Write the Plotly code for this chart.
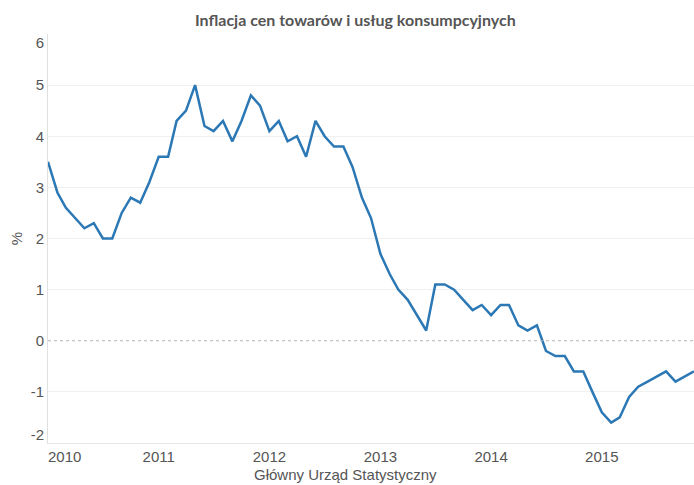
import pandas as pd
import plotly.graph_objects as go

# CPI inflation (y/y, %), monthly, GUS
months = pd.date_range("2010-01-01", "2015-11-01", freq="MS")
inflation = [
    3.5, 2.9, 2.6, 2.4, 2.2, 2.3, 2.0, 2.0, 2.5, 2.8, 2.7, 3.1,  # 2010
    3.6, 3.6, 4.3, 4.5, 5.0, 4.2, 4.1, 4.3, 3.9, 4.3, 4.8, 4.6,  # 2011
    4.1, 4.3, 3.9, 4.0, 3.6, 4.3, 4.0, 3.8, 3.8, 3.4, 2.8, 2.4,  # 2012
    1.7, 1.3, 1.0, 0.8, 0.5, 0.2, 1.1, 1.1, 1.0, 0.8, 0.6, 0.7,  # 2013
    0.5, 0.7, 0.7, 0.3, 0.2, 0.3, -0.2, -0.3, -0.3, -0.6, -0.6, -1.0,  # 2014
    -1.4, -1.6, -1.5, -1.1, -0.9, -0.8, -0.7, -0.6, -0.8, -0.7, -0.6,  # 2015
]
year_labels = ["2010", "2011", "2012", "2013", "2014", "2015"]
# first label nudged right so it sits inside the plot, like the original
year_ticks = ["2010-02-25", "2011-01-01", "2012-01-01", "2013-01-01", "2014-01-01", "2015-01-01"]
y_labels = ["-2", "-1", "0", "1", "2", "3", "4", "5", "6"]
y_label_pos = [-1.83, -1, 0, 1, 2, 3, 4, 5, 5.83]
y_grid = [-2, -1, 1, 2, 3, 4, 5, 6]

grey = "#555555"

fig = go.Figure(
    go.Scatter(
        x=months,
        y=inflation,
        mode="lines",
        line=dict(color="#2b78b5", width=2.5),
        hoverinfo="x+y",
        cliponaxis=False,
    )
)

# dotted zero line
fig.add_shape(
    type="line", xref="paper", x0=0, x1=1, yref="y", y0=0, y1=0,
    line=dict(color="#b4b4b4", width=1, dash="dot"),
)

# source line under the axis (sits a bit left of the plot centre in the original)
fig.add_annotation(
    text="Główny Urząd Statystyczny",
    xref="paper", yref="paper", x=0.46, y=-0.078,
    xanchor="center", yanchor="middle",
    showarrow=False,
    font=dict(size=15, color=grey),
)

fig.update_layout(
    width=694,
    height=485,
    margin=dict(l=48, r=0, t=34, b=42, autoexpand=False),
    plot_bgcolor="white",
    paper_bgcolor="white",
    showlegend=False,
    title=dict(
        text="<b>Inflacja cen towarów i usług konsumpcyjnych</b>",
        font=dict(family="Lato", size=16, color=grey),
        x=0.512,
        xanchor="center",
        y=0.957,
        yanchor="middle",
    ),
    font=dict(family="Liberation Sans, Arial", size=15, color=grey),
)

fig.update_xaxes(
    range=["2010-01-01", "2015-11-01"],
    automargin=False,
    tickmode="array",
    tickvals=year_ticks,
    ticktext=year_labels,
    showgrid=False,
    zeroline=False,
    showline=True,
    linecolor="#e6e6e6",
    linewidth=1,
    ticks="",
)

fig.update_yaxes(
    range=[-2, 6],
    automargin=False,
    tickmode="array",
    tickvals=y_label_pos,
    ticktext=y_labels,
    showgrid=False,
    zeroline=False,
    showline=True,
    linecolor="#e0e0e0",
    linewidth=1,
    ticks="",
    minor=dict(tickmode="array", tickvals=y_grid, showgrid=True, gridcolor="#f0f0f0", gridwidth=1, ticks=""),
    title=dict(text="%", font=dict(size=15, color=grey), standoff=4),
)

# drop the default page margin so the figure sits at the window's corner
fig.write_html(
    "out.html",
    config={"displayModeBar": False},
    post_script="document.body.style.margin = '0';",
)
